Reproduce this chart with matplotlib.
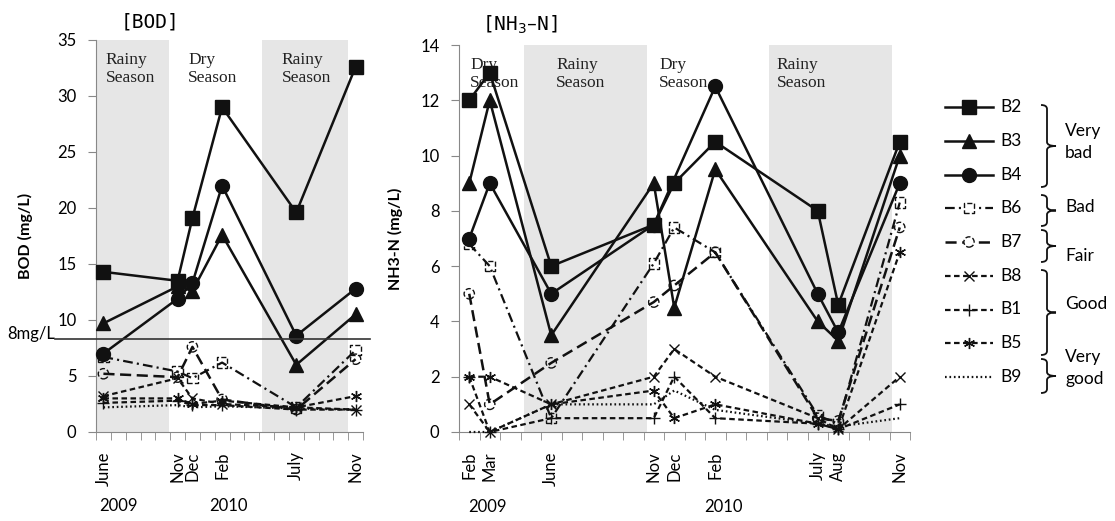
import numpy as np
import matplotlib
matplotlib.use("Agg")
import matplotlib.pyplot as plt
from matplotlib.path import Path
from matplotlib.patches import PathPatch

plt.rcParams['font.family'] = ['Lato', 'DejaVu Sans']
plt.rcParams['lines.scale_dashes'] = False

nan = np.nan

# ---- BOD (monthly axis from June 2009) ----
bod_dates = [(2009, 6), (2009, 11), (2009, 12), (2010, 2), (2010, 7), (2010, 11)]
bod_labels = ["June", "Nov", "Dec", "Feb", "July", "Nov"]
bod_b2 = [14.3, 13.5, 19.1, 29.0, 19.6, 32.6]
bod_b3 = [9.7, 13.0, 12.6, 17.6, 6.0, 10.5]
bod_b4 = [7.0, 11.9, 13.3, 22.0, 8.6, 12.8]
bod_b6 = [6.7, 5.4, 4.8, 6.2, 2.2, 7.3]
bod_b7 = [5.2, 4.9, 7.6, 2.9, 2.0, 6.5]
bod_b8 = [3.2, 4.8, 3.0, 2.5, 2.2, 2.0]
bod_b1 = [2.6, 2.8, 2.4, 2.4, 2.0, 2.0]
bod_b5 = [3.0, 3.0, 2.5, 2.8, 2.2, 3.2]
bod_b9 = [2.2, 2.4, 2.2, 2.3, 2.1, 2.0]
bod_limit = 8.3

# ---- NH3-N (monthly axis from Feb 2009) ----
nh3_dates = [(2009, 2), (2009, 3), (2009, 6), (2009, 11), (2009, 12),
             (2010, 2), (2010, 7), (2010, 8), (2010, 11)]
nh3_labels = ["Feb", "Mar", "June", "Nov", "Dec", "Feb", "July", "Aug", "Nov"]
nh3_b2 = [12.0, 13.0, 6.0, 7.5, 9.0, 10.5, 8.0, 4.6, 10.5]
nh3_b3 = [9.0, 12.0, 3.5, 9.0, 4.5, 9.5, 4.0, 3.3, 10.0]
nh3_b4 = [7.0, 9.0, 5.0, 7.5, nan, 12.5, 5.0, 3.6, 9.0]
nh3_b6 = [6.8, 6.0, 0.5, 6.1, 7.4, 6.5, 0.6, 0.3, 8.3]
nh3_b7 = [5.0, 1.0, 2.5, 4.7, 5.3, 6.5, 0.5, 0.4, 7.4]
nh3_b8 = [1.0, 0.0, 1.0, 2.0, 3.0, 2.0, 0.5, 0.1, 2.0]
nh3_b1 = [2.0, 0.0, 0.5, 0.5, 2.0, 0.5, 0.3, 0.1, 1.0]
nh3_b5 = [2.0, 2.0, 1.0, 1.5, 0.5, 1.0, 0.3, 0.1, 6.5]
nh3_b9 = [0.0, 0.0, 1.0, 1.0, 1.5, 0.8, 0.3, 0.2, 0.5]

# rainy season spans (in months from axis start)
bod_rainy = [(0.0, 4.9), (11.2, 17.0)]
nh3_rainy = [(3.15, 9.15), (15.1, 21.1)]
bod_seasons = [("Rainy\nSeason", 0.67), ("Dry\nSeason", 6.2), ("Rainy\nSeason", 12.5)]
nh3_seasons = [("Dry\nSeason", 0.54), ("Rainy\nSeason", 4.73),
               ("Dry\nSeason", 9.76), ("Rainy\nSeason", 15.5)]

names = ["B2", "B3", "B4", "B6", "B7", "B8", "B1", "B5", "B9"]
groups = ["Very\nbad", "Bad", "Fair", "Good", "Very\ngood"]

K = '#111111'
STYLES = {
    "B2": dict(ls="-", lw=1.8, marker="s", ms=10),
    "B3": dict(ls="-", lw=1.8, marker="^", ms=10),
    "B4": dict(ls="-", lw=1.8, marker="o", ms=10),
    "B6": dict(dashes=(7, 3, 1.5, 3), lw=1.6, open="s"),
    "B7": dict(dashes=(8, 4), lw=1.8, open="o"),
    "B8": dict(dashes=(4, 2.5), lw=1.6, marker="x", ms=7),
    "B1": dict(dashes=(4, 2.5), lw=1.6, marker="+", ms=8),
    "B5": dict(dashes=(4, 2.5), lw=1.6, marker=(6, 2, 0), ms=8),
    "B9": dict(dashes=(1.2, 2.0), lw=1.6),
}


def month_index(dates, start):
    return np.array([(y - start[0]) * 12 + m - start[1] for y, m in dates]) + 0.5


def draw(ax, xs, ys, name):
    st = dict(STYLES[name])
    xs = np.asarray(xs, float)
    ys = np.asarray(ys, float)
    ok = ~np.isnan(ys)
    op = st.pop("open", None)
    ax.plot(xs[ok], ys[ok], color=K, mec=K, mfc=K, zorder=3, clip_on=False, **st)
    if op:
        ax.scatter(xs[ok], ys[ok], marker=op, s=55, facecolors='none', edgecolors=K,
                   linestyles='--', linewidths=1.0, zorder=4, clip_on=False)


def setup(ax, nmonths, yticks, xs, labels, rainy, seasons, ylabel, labx):
    for a, b in rainy:
        ax.axvspan(a, b, color='#e6e6e6', lw=0, zorder=0)
    for txt, x in seasons:
        ax.text(x, 0.97, txt, transform=ax.get_xaxis_transform(), va='top', ha='left',
                family='Liberation Serif', fontsize=12.5, color='#222', linespacing=1.2)
    ax.set_xlim(0, nmonths)
    ax.set_ylim(yticks[0], yticks[-1])
    ax.set_yticks(yticks)
    ax.set_xticks(xs)
    ax.set_xticklabels(labels, rotation=90, va='top', ha='center')
    ax.set_xticks(np.arange(0, nmonths + 1), minor=True)
    ax.tick_params(axis='x', which='major', length=0, pad=14, labelsize=12)
    ax.tick_params(axis='x', which='minor', length=6, color='#888')
    ax.tick_params(axis='y', length=6, color='#888', pad=8, labelsize=12)
    for s in ['top', 'right']:
        ax.spines[s].set_visible(False)
    for s in ['left', 'bottom']:
        ax.spines[s].set_color('#888')
    ax.set_ylabel(ylabel, fontweight='bold', fontsize=11.5)
    ax.yaxis.set_label_coords(labx, 0.5)
    ax.set_facecolor('none')


fig = plt.figure(figsize=(11.15, 5.21), dpi=100)
W, H = 1115, 521
ax1 = fig.add_axes([96 / W, 89 / H, 267 / W, 392 / H])
ax2 = fig.add_axes([459 / W, 89 / H, 451 / W, 387 / H])

# BOD
bx = month_index(bod_dates, (2009, 6))
setup(ax1, 18, np.arange(0, 36, 5), bx, bod_labels, bod_rainy, bod_seasons,
      "BOD (mg/L)", -0.236)
for name, ys in zip(names, [bod_b2, bod_b3, bod_b4, bod_b6, bod_b7, bod_b8, bod_b1, bod_b5, bod_b9]):
    draw(ax1, bx, ys, name)
ax1.axhline(bod_limit, xmin=-0.154, xmax=1.026, clip_on=False, color='#333', lw=1.2, zorder=5)
ax1.text(-0.154, bod_limit, "8mg/L", transform=ax1.get_yaxis_transform(), ha='right',
         va='baseline', fontsize=12)
ax1.text(1.48, -0.19, "2009", transform=ax1.get_xaxis_transform(), ha='center', va='center', fontsize=12)
ax1.text(8.9, -0.19, "2010", transform=ax1.get_xaxis_transform(), ha='center', va='center', fontsize=12)

# NH3-N
nx = month_index(nh3_dates, (2009, 2))
setup(ax2, 22, np.arange(0, 15, 2), nx, nh3_labels, nh3_rainy, nh3_seasons,
      "NH3-N (mg/L)", -0.124)
for name, ys in zip(names, [nh3_b2, nh3_b3, nh3_b4, nh3_b6, nh3_b7, nh3_b8, nh3_b1, nh3_b5, nh3_b9]):
    draw(ax2, nx, ys, name)
ax2.text(1.41, -0.194, "2009", transform=ax2.get_xaxis_transform(), ha='center', va='center', fontsize=12)
ax2.text(12.9, -0.194, "2010", transform=ax2.get_xaxis_transform(), ha='center', va='center', fontsize=12)

fig.text(150 / W, 1 - 22 / H, "[BOD]", ha='center', va='center', family='DejaVu Sans Mono', fontsize=14)
fig.text(520 / W, 1 - 25 / H, "[NH$_3$\u2013N]", ha='center', va='center', family='DejaVu Sans Mono', fontsize=14)

# legend with braces (pixel coordinates overlay)
lg = fig.add_axes([0, 0, 1, 1])
lg.set_xlim(0, W)
lg.set_ylim(H, 0)
lg.axis('off')
for i, name in enumerate(names):
    y = 107 + i * 33.75
    draw(lg, [945, 993], [y, y], name) if False else None
    st = dict(STYLES[name])
    op = st.pop("open", None)
    mk = st.pop("marker", None)
    ms = st.pop("ms", None)
    lg.plot([945, 993], [y, y], color=K, **st)
    if mk is not None:
        lg.plot([969], [y], color=K, marker=mk, ms=ms, mfc=K, mec=K, ls='none')
    if op:
        lg.scatter([969], [y], marker=op, s=55, facecolors='white', edgecolors=K,
                   linestyles='--', linewidths=1.0, zorder=4)
    lg.text(1000, y, name, va='center', ha='left', fontsize=12.5)

brace_spans = [(105, 187), (195, 226), (230, 262), (270, 355), (359, 393)]
group_y = [142, 207, 256, 304, 368]


def brace(ax, x0, y0, y1, w=6, tip=9, r=4):
    ym = (y0 + y1) / 2
    xv = x0 + w
    verts = [(x0, y0), (xv, y0), (xv, y0 + r),
             (xv, ym - r), (xv, ym), (xv + tip, ym),
             (xv, ym), (xv, ym + r),
             (xv, y1 - r), (xv, y1), (x0, y1)]
    codes = [Path.MOVETO, Path.CURVE3, Path.CURVE3,
             Path.LINETO, Path.CURVE3, Path.CURVE3,
             Path.CURVE3, Path.CURVE3,
             Path.LINETO, Path.CURVE3, Path.CURVE3]
    ax.add_patch(PathPatch(Path(verts, codes), fill=False, lw=1.3, edgecolor=K))


for (y0, y1), gy, g in zip(brace_spans, group_y, groups):
    brace(lg, 1041, y0, y1)
    lg.text(1065, gy, g, va='center', ha='left', fontsize=12.5, linespacing=1.4)

fig.savefig("out.png", dpi=100)
